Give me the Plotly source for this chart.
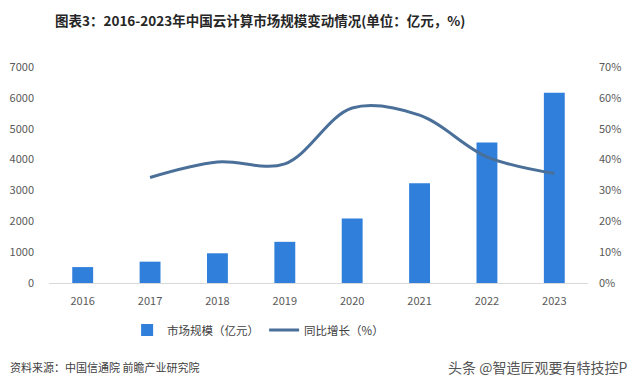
import plotly.graph_objects as go

years = ["2016", "2017", "2018", "2019", "2020", "2021", "2022", "2023"]
market_size = [515.5, 691.6, 962.8, 1334.5, 2091, 3229, 4550, 6165]
growth_years = ["2017", "2018", "2019", "2020", "2021", "2022", "2023"]
growth_rate = [0.342, 0.392, 0.386, 0.567, 0.544, 0.409, 0.355]
left_ticks = [0, 1000, 2000, 3000, 4000, 5000, 6000, 7000]
right_ticks = [0, 0.1, 0.2, 0.3, 0.4, 0.5, 0.6, 0.7]

FONT = "Noto Sans CJK SC"
TICK_COLOR = "#595959"

# page body has an 8px margin; figure is sized/positioned to compensate
W, H = 630, 378
PL, PR, PT, PB = 40.5, 580.5, 59, 275  # plot area in figure pixels
PW, PH = PR - PL, PB - PT


def px(x):
    return (x - PL) / PW


def py(y):
    return (PB - y) / PH


fig = go.Figure()
fig.add_trace(go.Bar(
    x=years, y=market_size, name="市场规模（亿元）",
    marker=dict(color="#2F7FDB", line=dict(width=0)), width=0.31,
))
fig.add_trace(go.Scatter(
    x=growth_years, y=growth_rate, name="同比增长（%）", yaxis="y2",
    mode="lines", line=dict(color="#4A7099", width=3, shape="spline", smoothing=1.0),
))

fig.update_layout(
    width=W, height=H,
    margin=dict(l=PL, r=W - PR, t=PT, b=H - PB, autoexpand=False),
    paper_bgcolor="white", plot_bgcolor="white",
    font=dict(family=FONT, size=11, color=TICK_COLOR),
    showlegend=True,
    legend=dict(orientation="h", x=px(250), y=py(322), xanchor="center", yanchor="middle",
                font=dict(family=FONT, size=11.5, color="#404040"), itemwidth=30,
                bgcolor="rgba(0,0,0,0)"),
    xaxis=dict(type="category", showline=True, linecolor="#D9D9D9", linewidth=1,
               showgrid=False, ticks="", tickfont=dict(size=11, color=TICK_COLOR),
               ticklabelstandoff=8, automargin=False),
    yaxis=dict(range=[0, 7000], tickvals=left_ticks, showgrid=False, zeroline=False,
               showline=False, ticks="", tickfont=dict(size=11, color=TICK_COLOR),
               ticklabelstandoff=14, automargin=False),
    yaxis2=dict(range=[0, 0.7], tickvals=right_ticks, tickformat=".0%", overlaying="y",
                side="right", showgrid=False, zeroline=False, showline=False, ticks="",
                tickfont=dict(size=11, color=TICK_COLOR), ticklabelstandoff=10,
                automargin=False),
)

fig.add_annotation(
    text="<b>图表3：2016-2023年中国云计算市场规模变动情况(单位：亿元，%)</b>",
    xref="paper", yref="paper", x=px(252), y=py(12),
    xanchor="center", yanchor="middle", showarrow=False,
    font=dict(family=FONT, size=13.5, color="#262626"),
)
fig.add_annotation(
    text="资料来源：中国信通院 前瞻产业研究院",
    xref="paper", yref="paper", x=px(-1), y=py(359),
    xanchor="left", yanchor="middle", showarrow=False,
    font=dict(family=FONT, size=11, color="#404040"),
)
fig.add_annotation(
    text="头条 @智造匠观要有特技控P",
    xref="paper", yref="paper", x=px(622), y=py(359),
    xanchor="right", yanchor="middle", showarrow=False,
    font=dict(family=FONT, size=14, color="#555555"),
)

fig.write_html("out.html")
